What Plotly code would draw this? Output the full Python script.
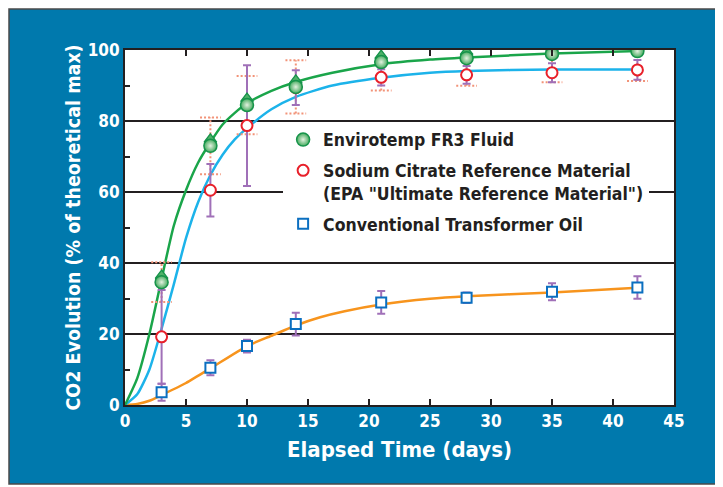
import plotly.graph_objects as go

# ---------------- data ----------------
days = [3, 7, 10, 14, 21, 28, 35, 42]

fr3_y = [34.6, 73.0, 84.5, 89.6, 96.6, 97.7, 98.9, 99.7]
fr3_err = [5.6, 8.0, 8.2, 7.5, 8.0, 7.8, 8.0, 8.4]

citrate_y = [19.2, 60.5, 78.7, 89.4, 92.3, 93.0, 93.6, 94.4]
citrate_err = [13.2, 7.4, 17.0, 4.9, 2.3, 2.5, 2.7, 2.8]

oil_y = [3.6, 10.5, 16.6, 22.8, 28.9, 30.2, 31.9, 33.1]
oil_err = [2.4, 2.1, 1.8, 3.2, 3.2, 1.5, 2.4, 3.2]

# fitted curves
green_x = [0, 1, 2, 3, 4, 5, 6, 7, 8, 9, 10, 12, 14, 17, 21, 25, 28, 35, 42]
green_y = [0, 7.5, 20, 35.5, 50.5, 60.5, 68.3, 74, 79, 82.3, 85, 88.5, 91, 93.6, 96, 97.3, 97.9, 99, 99.7]

cyan_x = [0, 1, 2, 3, 4, 5, 6, 7, 8, 9, 10, 12, 14, 17, 21, 25, 28, 35, 42]
cyan_y = [0, 3, 10, 21.5, 34, 47, 57.2, 64.8, 70.5, 74.8, 78, 83.3, 86.8, 90, 92.2, 93.6, 94.1, 94.5, 94.5]

orange_x = [0, 1, 2, 3, 5, 7, 10, 12, 14, 16, 18, 21, 25, 28, 35, 42]
orange_y = [0, 0.3, 1.2, 2.8, 6.2, 10.3, 16.6, 19.5, 22.4, 24.7, 26.4, 28.3, 29.9, 30.6, 31.7, 33.0]

names = [
    "Envirotemp FR3 Fluid",
    'Sodium Citrate Reference Material<br>(EPA "Ultimate Reference Material")',
    "Conventional Transformer Oil",
]

x_ticks = [0, 5, 10, 15, 20, 25, 30, 35, 40, 45]
y_ticks = [0, 20, 40, 60, 80, 100]

# ---------------- style ----------------
FONT = "DejaVu Sans Condensed, DejaVu Sans, sans-serif"
BLUE_BG = "#0079AD"
DARK = "#231f20"
PURPLE = "#a070b8"
SALMON = "#f29378"
GREEN = "#1aa54a"
CYAN = "#1cb3ea"
ORANGE = "#f7941d"
CAP = 0.85  # half-width of dotted caps, in days

W, H = 715, 479           # figure size (page adds an 8px body margin)
ML, MR, MT, MB = 117, 49, 42, 82
PW, PH = W - ML - MR, H - MT - MB

fig = go.Figure()

# fitted curves
for cx, cy, col in [(orange_x, orange_y, ORANGE), (cyan_x, cyan_y, CYAN), (green_x, green_y, GREEN)]:
    fig.add_trace(go.Scatter(x=cx, y=cy, mode="lines", showlegend=False, hoverinfo="skip",
                             line=dict(color=col, width=2.5, shape="spline", smoothing=0.6)))

# dotted error bars for FR3 (built from the data arrays)
dx, dy = [], []
for d, v, e in zip(days, fr3_y, fr3_err):
    dx += [d, d, None]
    dy += [v - e, v + e, None]
    for yy in (v - e, v + e):
        dx += [d - CAP, d + CAP, None]
        dy += [yy, yy, None]
fig.add_trace(go.Scatter(x=dx, y=dy, mode="lines", showlegend=False, hoverinfo="skip",
                         line=dict(color=SALMON, width=2, dash="2px,2px")))

# conventional oil
fig.add_trace(go.Scatter(
    x=days, y=oil_y, mode="markers", name=names[2], legendgroup="c", legendrank=3,
    error_y=dict(type="data", array=oil_err, color=PURPLE, thickness=2, width=4),
    marker=dict(symbol="square", size=10, color="white", line=dict(color="#0b6fc0", width=2)),
))

# sodium citrate
fig.add_trace(go.Scatter(
    x=days, y=citrate_y, mode="markers", name=names[1], legendgroup="b", legendrank=2,
    error_y=dict(type="data", array=citrate_err, color=PURPLE, thickness=2, width=4),
    marker=dict(symbol="circle", size=11, color="white", line=dict(color="#e8202a", width=2)),
))

# FR3 droplets: tip + body
fig.add_trace(go.Scatter(
    x=days, y=fr3_y, mode="markers", showlegend=False, hoverinfo="skip",
    marker=dict(symbol="triangle-down", angle=180, standoff=6.5, size=11,
                color="#4fb168", line=dict(color="#16934a", width=1.3)),
))
fig.add_trace(go.Scatter(
    x=days, y=fr3_y, mode="markers", name=names[0], legendgroup="a", legendrank=1,
    marker=dict(symbol="circle", size=13, color="#45ab5e",
                gradient=dict(type="radial", color="#e4f1e0"),
                line=dict(color="#16934a", width=1.5)),
))

# background: blue frame + white plot area
fig.add_shape(type="rect", xref="paper", yref="paper",
              x0=(1 - ML) / PW, x1=(712 - ML) / PW, y0=(MT + PH - 476) / PH, y1=(MT + PH - 1) / PH,
              fillcolor=BLUE_BG, line=dict(color="#4a4a4a", width=1.5), layer="below")
fig.add_shape(type="rect", xref="x domain", yref="y domain", x0=0, x1=1, y0=0, y1=1,
              fillcolor="white", line=dict(width=0), layer="below")

fig.update_layout(
    width=W, height=H,
    margin=dict(l=ML, r=MR, t=MT, b=MB, autoexpand=False),
    paper_bgcolor="white", plot_bgcolor="white",
    font=dict(family=FONT, color="white"),
    showlegend=True,
    legend=dict(x=0.288, y=0.798, xanchor="left", yanchor="top", bgcolor="white",
                font=dict(family=FONT, size=17.5, color=DARK, weight="bold"),
                valign="top", borderwidth=0, traceorder="grouped", tracegroupgap=5),
    xaxis=dict(range=[0, 45], tickvals=x_ticks, ticks="inside", ticklen=6, tickwidth=2, tickcolor=DARK,
               showline=True, linecolor=DARK, linewidth=2, mirror="ticks", showgrid=False, zeroline=False,
               automargin=False,
               tickfont=dict(family=FONT, size=17, color="white", weight="bold"),
               title=dict(text="Elapsed Time (days)", standoff=11,
                          font=dict(family=FONT, size=22, color="white", weight="bold"))),
    yaxis=dict(range=[0, 100], tickvals=y_ticks, ticks="inside", ticklen=6, tickwidth=2, tickcolor=DARK,
               minor=dict(dtick=10, ticks="inside", ticklen=5, tickwidth=2, tickcolor=DARK, showgrid=False),
               showline=True, linecolor=DARK, linewidth=2, mirror=True,
               showgrid=True, gridcolor=DARK, gridwidth=2, zeroline=False, automargin=False,
               tickfont=dict(family=FONT, size=17, color="white", weight="bold"),
               title=dict(text="CO2 Evolution (% of theoretical max)", standoff=2,
                          font=dict(family=FONT, size=19.5, color="white", weight="bold"))),
)

fig.write_html("out.html")
